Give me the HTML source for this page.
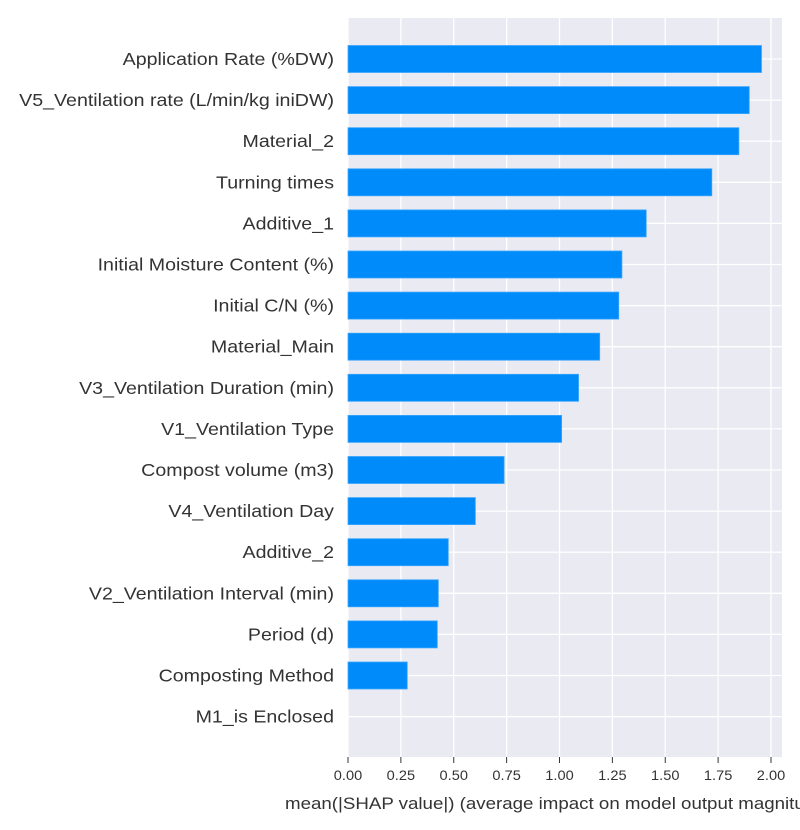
<!DOCTYPE html>
<html><head><meta charset="utf-8"><style>
html,body{margin:0;padding:0;background:#fff;}
svg{display:block;font-family:"Liberation Sans",sans-serif;}
</style></head><body>
<svg id="chart" width="800" height="830" xmlns="http://www.w3.org/2000/svg"></svg>
<script>
const features = ["Application Rate (%DW)","V5_Ventilation rate (L/min/kg iniDW)","Material_2","Turning times","Additive_1","Initial Moisture Content (%)","Initial C/N (%)","Material_Main","V3_Ventilation Duration (min)","V1_Ventilation Type","Compost volume (m3)","V4_Ventilation Day","Additive_2","V2_Ventilation Interval (min)","Period (d)","Composting Method","M1_is Enclosed"];
const values = [1.955,1.897,1.848,1.72,1.41,1.295,1.28,1.19,1.09,1.01,0.738,0.602,0.474,0.427,0.422,0.28,0];
const ticks = [0,0.25,0.5,0.75,1.0,1.25,1.5,1.75,2.0];
const tickLabels = ["0.00","0.25","0.50","0.75","1.00","1.25","1.50","1.75","2.00"];

const NS="http://www.w3.org/2000/svg";
const svg=document.getElementById('chart');
const plotL=348, plotR=782, plotT=18, plotB=757;
const x0=348, pxPerUnit=211.5;
const xs=v=>x0+v*pxPerUnit;
const firstY=59, stepY=41.1;
const ys=i=>firstY+i*stepY;
const barH=27;
function mk(tag,attrs){const e=document.createElementNS(NS,tag);for(const k in attrs)e.setAttribute(k,attrs[k]);svg.appendChild(e);return e;}
function stretch(t,f){const w=t.getComputedTextLength();t.setAttribute('textLength',(w*f).toFixed(1));t.setAttribute('lengthAdjust','spacingAndGlyphs');}

const bg=mk('rect',{x:plotL,y:plotT,width:plotR-plotL,height:plotB-plotT,fill:'#eaeaf2'});



ticks.forEach((t,i)=>{
  const g=mk('line',{x1:xs(t),x2:xs(t),y1:plotT,y2:plotB,stroke:'#fff','stroke-width':1.3});
  
  
  const tk=mk('line',{x1:xs(t),x2:xs(t),y1:plotB,y2:plotB+6,stroke:'#333','stroke-width':1});
  
  
  const lb=mk('text',{x:xs(t),y:plotB+23,'text-anchor':'middle','font-size':13.5,fill:'#333'});
  lb.textContent=tickLabels[i];
  
  
  stretch(lb,1.08);
});
features.forEach((f,i)=>{
  const g=mk('line',{x1:plotL,x2:plotR,y1:ys(i),y2:ys(i),stroke:'#fff','stroke-width':1.3});
  
  
});
features.forEach((f,i)=>{
  if(values[i]>0){
    const b=mk('rect',{x:x0,y:ys(i)-barH/2,width:xs(values[i])-x0,height:barH,fill:'#008bfb',stroke:'#3aa5ff','stroke-width':0.8});
    
    
  }
  const t=mk('text',{x:334,y:ys(i)+6,'text-anchor':'end','font-size':17.5,fill:'#333'});
  t.textContent=f;
  
  
  stretch(t,1.12);
});
const xl=mk('text',{x:285,y:809,'font-size':17,fill:'#333'});
xl.textContent="mean(|SHAP value|) (average impact on model output magnitude)";


stretch(xl,1.10);
</script>
</body></html>
